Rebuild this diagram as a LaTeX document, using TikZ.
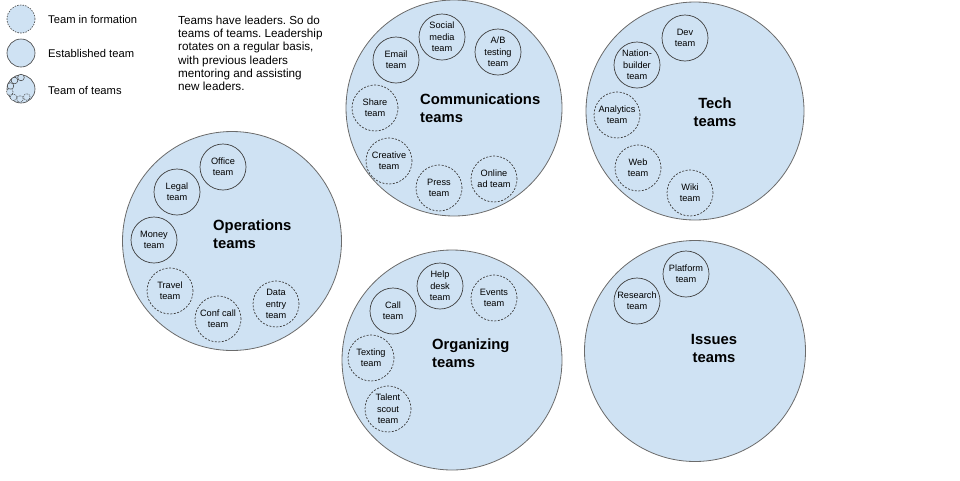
\documentclass[tikz,border=0pt]{standalone}
\usepackage{fontspec}
\setmainfont{Liberation Sans}
\frenchspacing
\definecolor{teamfill}{HTML}{CFE2F3}
\definecolor{groupline}{HTML}{6B6B6B}
\definecolor{teamline}{HTML}{3F3F3F}
\begin{document}
\begin{tikzpicture}[x=1pt,y=-1pt,
  group/.style={circle,draw=groupline,fill=teamfill,line width=0.8pt,
    minimum size=#1,inner sep=0pt},
  team/.style={circle,draw=teamline,fill=teamfill,line width=0.7pt,
    minimum size=46pt,inner sep=0pt,align=center,
    font=\fontsize{9.2}{11.3}\selectfont},
  forming/.style={team,dash pattern=on 2pt off 1.5pt},
  grouptitle/.style={inner sep=0pt,font=\fontsize{14.8}{18}\selectfont\bfseries},
  legendtext/.style={anchor=west,inner sep=0pt,font=\fontsize{11.2}{13}\selectfont},
  tiny/.style={circle,draw=teamline,fill=teamfill,line width=0.5pt,
    minimum size=6.6pt,inner sep=0pt},
  tinyforming/.style={tiny,dash pattern=on 1pt off 0.8pt},
]
\useasboundingbox (0,0) rectangle (960,480);

% ---------- legend ----------
\node[group=28pt,draw=teamline,line width=0.6pt,dash pattern=on 1.5pt off 1.2pt] (lgForming) at (21,19) {};
\node[legendtext] (lgFormingText) at (48,19) {Team in formation};
\node[group=28pt,draw=teamline,line width=0.6pt] (lgEstablished) at (21,53) {};
\node[legendtext] (lgEstablishedText) at (48,53) {Established team};
\node[group=28pt,draw=teamline,line width=0.6pt] (lgGroup) at (21,89) {};
\node[tiny] (lgT1) at (21,77.5) {};
\node[tiny] (lgT2) at (14.5,80.5) {};
\node[tiny] (lgT3) at (10.5,86) {};
\node[tinyforming] (lgT4) at (9.8,92) {};
\node[tinyforming] (lgT5) at (13.5,97.3) {};
\node[tinyforming] (lgT6) at (20,99) {};
\node[tinyforming] (lgT7) at (26.8,97) {};
\node[legendtext] (lgGroupText) at (48,90) {Team of teams};

\node[anchor=north west,inner sep=0pt,align=left,
      font=\fontsize{11.7}{13.3}\selectfont] (note) at (178,15.5)
  {Teams have leaders. So do\\teams of teams. Leadership\\rotates on a regular basis,\\with previous leaders\\mentoring and assisting\\new leaders.};

% ---------- Communications ----------
\node[group=216pt] (comms) at (454,108) {};
\node[grouptitle,anchor=west,align=left] (commsTitle) at (420,108) {Communications\\teams};
\node[team] (email) at (396,60) {Email\\team};
\node[team] (social) at (442,37) {Social\\media\\team};
\node[team] (abtest) at (498,52) {A/B\\testing\\team};
\node[forming] (share) at (375,108) {Share\\team};
\node[forming] (creative) at (389,161) {Creative\\team};
\node[forming] (press) at (439,188) {Press\\team};
\node[forming] (onlinead) at (494,179) {Online\\ad team};

% ---------- Tech ----------
\node[group=218pt] (tech) at (695,111) {};
\node[grouptitle,align=center] (techTitle) at (715,112) {Tech\\teams};
\node[team] (dev) at (685,38) {Dev\\team};
\node[team] (nation) at (637,65) {Nation-\\builder\\team};
\node[forming] (analytics) at (617,115) {Analytics\\team};
\node[forming] (web) at (638,168) {Web\\team};
\node[forming] (wiki) at (690,193) {Wiki\\team};

% ---------- Operations ----------
\node[group=219pt] (ops) at (232,241) {};
\node[grouptitle,anchor=west,align=left] (opsTitle) at (213,234.5) {Operations\\teams};
\node[team] (office) at (223,167) {Office\\team};
\node[team] (legal) at (177,192) {Legal\\team};
\node[team] (money) at (154,240) {Money\\team};
\node[forming] (travel) at (170,291) {Travel\\team};
\node[forming] (confcall) at (218,319) {Conf call\\team};
\node[forming] (dataentry) at (276,304) {Data\\entry\\team};

% ---------- Organizing ----------
\node[group=220pt] (org) at (452,360) {};
\node[grouptitle,anchor=west,align=left] (orgTitle) at (432,353.5) {Organizing\\teams};
\node[team] (call) at (393,311) {Call\\team};
\node[team] (helpdesk) at (440,286) {Help\\desk\\team};
\node[forming] (events) at (494,298) {Events\\team};
\node[forming] (texting) at (371,358) {Texting\\team};
\node[forming] (talent) at (388,409) {Talent\\scout\\team};

% ---------- Issues ----------
\node[group=221pt] (issues) at (695,351) {};
\node[grouptitle,align=center] (issuesTitle) at (714,348.5) {Issues\\teams};
\node[team] (platform) at (686,274) {Platform\\team};
\node[team] (research) at (637,301) {Research\\team};
\end{tikzpicture}
\end{document}
